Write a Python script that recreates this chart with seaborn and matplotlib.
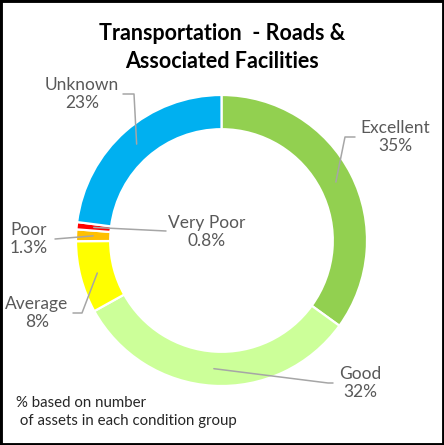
import numpy as np
import matplotlib
matplotlib.use("Agg")
import matplotlib.pyplot as plt
import matplotlib.patches as mpatches
import seaborn as sns

sns.set_theme(style="white")
plt.rcParams["font.family"] = ["Lato", "DejaVu Sans"]

# ── Data ──────────────────────────────────────────────────────────────────────
conditions = ["Excellent", "Good", "Average", "Poor", "Very Poor", "Unknown"]
shares     = [35, 32, 8, 1.3, 0.8, 23]
share_text = ["35%", "32%", "8%", "1.3%", "0.8%", "23%"]
colors     = ["#92D050", "#CCFF99", "#FFFF00", "#FFC000", "#FF0000", "#00B0F0"]

W, H = 444, 445
CX, CY, R = 221.5, 240.5, 145.5     # donut centre / radius in pixels

# label centre (px) and leader path after the wedge anchor (px)
label_pos = {
    "Excellent": (395, 137),
    "Good":      (360, 383),
    "Average":   (37, 313),
    "Poor":      (29, 239),
    "Very Poor": (207, 232),
    "Unknown":   (82, 94),
}
leader_path = {
    "Excellent": [(345, 137), (355, 137)],
    "Good":      [(328, 383), (333, 383)],
    "Average":   [(82, 313), (73, 313)],
    "Poor":      [(55, 239)],
    "Very Poor": [(166, 231)],
    "Unknown":   [(134, 94), (123, 94)],
}


def px_to_data(x, y):
    return (x - CX) / R, (CY - y) / R


fig = plt.figure(figsize=(W / 100, H / 100), dpi=100)
fig.patch.set_facecolor("white")
ax = fig.add_axes([(CX - R) / W, (H - CY - R) / H, 2 * R / W, 2 * R / H])

ring = 0.235
wedges, _ = ax.pie(shares, colors=colors, startangle=90, counterclock=False,
                   wedgeprops=dict(width=ring, edgecolor="white", linewidth=1.6))
ax.set_xlim(-1, 1)
ax.set_ylim(-1, 1)
ax.set_aspect("equal")
ax.axis("off")

mid_r = 1 - ring / 2
for w, name, txt in zip(wedges, conditions, share_text):
    ang = np.deg2rad((w.theta1 + w.theta2) / 2)
    pts = [(mid_r * np.cos(ang), mid_r * np.sin(ang))]
    pts += [px_to_data(*p) for p in leader_path[name]]
    xs, ys = zip(*pts)
    ax.plot(xs, ys, color="#A6A6A6", lw=1.1, clip_on=False, zorder=5)
    lx, ly = label_pos[name]
    fig.text(lx / W, 1 - ly / H, f"{name}\n{txt}", ha="center", va="center",
             fontsize=12.5, color="#595959", linespacing=1.15)

fig.text(0.5, 1 - 33 / H, "Transportation  - Roads &", ha="center", va="center",
         fontsize=15.5, fontweight="bold", color="black")
fig.text(0.5, 1 - 62 / H, "Associated Facilities", ha="center", va="center",
         fontsize=15.5, fontweight="bold", color="black")

fig.text(16 / W, 1 - 412 / H, "% based on number\n of assets in each condition group",
         ha="left", va="center", fontsize=10.8, color="#262626", linespacing=1.3)

fig.patches.append(mpatches.Rectangle((0, 0), 1, 1, transform=fig.transFigure,
                                      fill=False, edgecolor="black", lw=3.5))

fig.savefig("out.png", dpi=100)
